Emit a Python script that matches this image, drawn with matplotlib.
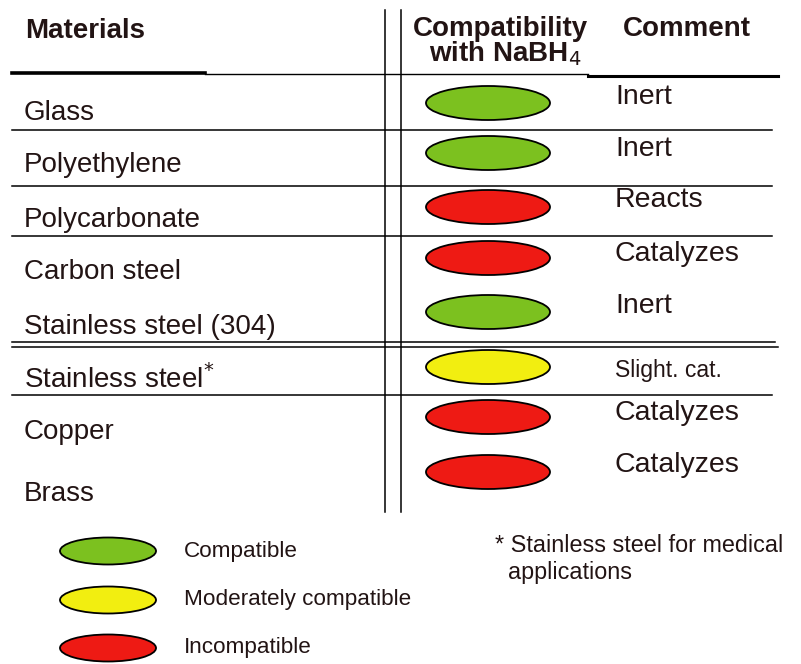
import matplotlib.pyplot as plt
from matplotlib.patches import Ellipse

plt.rcParams['font.family'] = ['Liberation Sans', 'DejaVu Sans']

# table content
materials = ["Glass", "Polyethylene", "Polycarbonate", "Carbon steel",
             "Stainless steel (304)", "Stainless steel$^{*}$", "Copper", "Brass"]
ratings = ["compatible", "compatible", "incompatible", "incompatible",
           "compatible", "moderate", "incompatible", "incompatible"]
comments = ["Inert", "Inert", "Reacts", "Catalyzes", "Inert",
            "Slight. cat.", "Catalyzes", "Catalyzes"]

legend_keys = ["compatible", "moderate", "incompatible"]
legend_labels = ["Compatible", "Moderately compatible", "Incompatible"]
footnote = "* Stainless steel for medical\n  applications"

colors = {"compatible": "#7cc11f", "moderate": "#f2ee10", "incompatible": "#ee1a14"}

# layout (pixel coords, y going down)
label_y = [113, 165, 220, 272, 327, 379, 432, 494]
oval_y = [103, 153, 207, 258, 312, 367, 417, 472]
comment_y = [97, 149, 200, 254, 306, 371, 413, 465]
legend_y = [551, 600, 648]

fig = plt.figure(figsize=(8.01, 6.64), dpi=100)
ax = fig.add_axes([0, 0, 1, 1])
ax.set_xlim(0, 801)
ax.set_ylim(664, 0)
ax.axis("off")

ink = "#221414"

# headers
ax.text(25, 31, "Materials", fontsize=20, fontweight="bold", color=ink, va="center")
ax.text(500, 29, "Compatibility", fontsize=20, fontweight="bold", color=ink,
        va="center", ha="center")
ax.text(505, 54, "with NaBH$_4$", fontsize=20, fontweight="bold", color=ink,
        va="center", ha="center")
ax.text(623, 29, "Comment", fontsize=20, fontweight="bold", color=ink, va="center")

# rules
ax.plot([12, 205], [73, 73], color="black", lw=2.6)
ax.plot([205, 588], [74, 74], color="black", lw=1.0)
ax.plot([588, 778], [76, 76], color="black", lw=2.2)
for y in [130, 186, 236]:
    ax.plot([12, 772], [y, y], color="black", lw=1.1)
ax.plot([12, 775], [342, 342], color="black", lw=1.1)
ax.plot([12, 778], [347, 347], color="black", lw=1.1)
ax.plot([12, 772], [395, 395], color="black", lw=1.1)
ax.plot([385, 385], [10, 512], color="black", lw=1.1)
ax.plot([401, 401], [10, 512], color="black", lw=1.1)

# rows
for name, rating, comment, ly, oy, cy in zip(materials, ratings, comments,
                                              label_y, oval_y, comment_y):
    ax.text(24, ly, name, fontsize=20, color=ink, va="center")
    ax.add_patch(Ellipse((488, oy), 124, 34, facecolor=colors[rating],
                         edgecolor="black", lw=1.3))
    size = 16.5 if comment.startswith("Slight") else 20.5
    ax.text(615, cy, comment, fontsize=size, color=ink, va="center")

# legend
for key, label, y in zip(legend_keys, legend_labels, legend_y):
    ax.add_patch(Ellipse((108, y), 96, 27, facecolor=colors[key],
                         edgecolor="black", lw=1.3))
    ax.text(184, y, label, fontsize=16.2, color=ink, va="center")

ax.text(495, 559, footnote, fontsize=16.8, color=ink, va="center", linespacing=1.2)

fig.savefig("out.png", dpi=100)
